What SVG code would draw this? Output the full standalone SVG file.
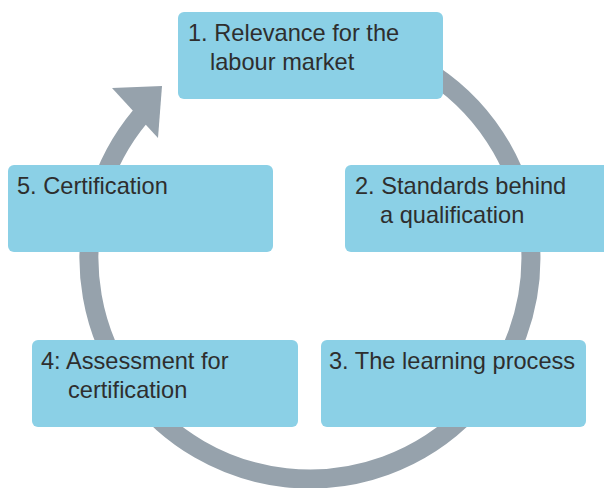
<svg xmlns="http://www.w3.org/2000/svg" width="604" height="488" viewBox="0 0 604 488">
<style>
.box{fill:#8bd0e6}
.t{font-family:"Liberation Sans",Arial,sans-serif;font-size:23.6px;fill:#2e2e2e}
.ring{fill:none;stroke:#96a2ac;stroke-width:19}
.head{fill:#96a2ac}
</style>
<rect width="604" height="488" fill="#ffffff"/>
<g id="connectors">
<path class="ring" d="M 348.4 40.4 A 221 221 0 1 1 140.7 115.9"/>
<polygon class="head" points="112,88 162,86 158,138"/>
</g>
<g id="node1">
<rect class="box" x="178" y="12" width="265" height="87" rx="6"/>
<text class="t" x="188" y="40.5">1. Relevance for the</text>
<text class="t" x="210" y="69.5">labour market</text>
</g>
<g id="node2">
<rect class="box" x="345" y="165" width="270" height="87" rx="6"/>
<text class="t" x="355" y="193.5">2. Standards behind</text>
<text class="t" x="380" y="222.5">a qualification</text>
</g>
<g id="node3">
<rect class="box" x="321" y="340" width="265" height="87" rx="6"/>
<text class="t" x="329" y="368.5">3. The learning process</text>
</g>
<g id="node4">
<rect class="box" x="32" y="340" width="266" height="87" rx="6"/>
<text class="t" x="41" y="368.5">4: Assessment for</text>
<text class="t" x="68" y="397.5">certification</text>
</g>
<g id="node5">
<rect class="box" x="8" y="165" width="265" height="87" rx="6"/>
<text class="t" x="17" y="193.5">5. Certification</text>
</g>
</svg>
